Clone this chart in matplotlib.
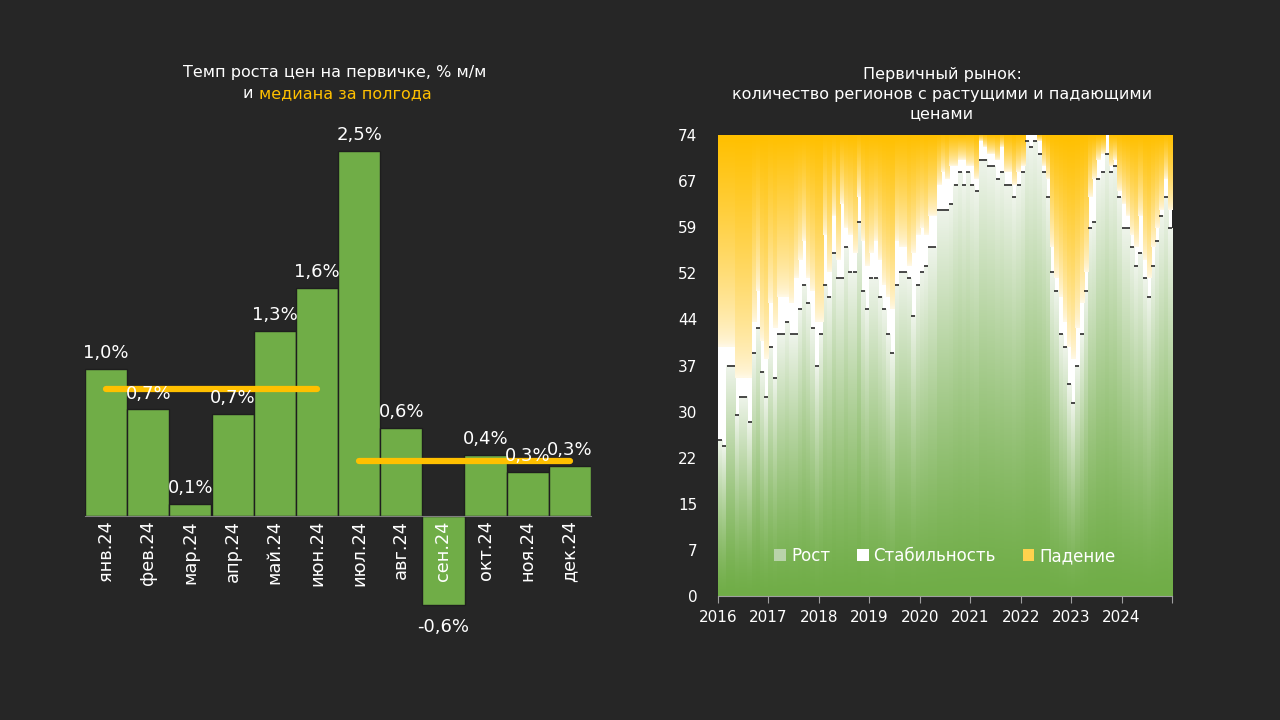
import numpy as np
import matplotlib.pyplot as plt
from matplotlib.patches import Patch

BG = '#262626'
GREEN = '#70AD47'
YELLOW = '#FFC000'

# левый график: темп роста цен на первичке, % м/м
months = ['янв.24', 'фев.24', 'мар.24', 'апр.24', 'май.24', 'июн.24',
          'июл.24', 'авг.24', 'сен.24', 'окт.24', 'ноя.24', 'дек.24']
price_growth = [1.01, 0.73, 0.08, 0.70, 1.27, 1.56,
                2.50, 0.60, -0.61, 0.42, 0.30, 0.34]

# правый график: число регионов (всего 74), помесячно 2016-2024
years = ['2016', '2017', '2018', '2019', '2020', '2021', '2022', '2023', '2024']
rost = [25, 24, 37, 37, 29, 32, 32, 28, 39, 43, 36, 32,
        40, 35, 42, 42, 44, 42, 42, 46, 50, 47, 43, 37,
        42, 50, 48, 55, 51, 51, 56, 52, 52, 60, 49, 46,
        51, 51, 48, 46, 42, 39, 50, 52, 52, 51, 45, 50,
        52, 53, 56, 56, 62, 62, 62, 63, 66, 68, 66, 68,
        66, 65, 70, 70, 69, 69, 67, 68, 66, 66, 64, 66,
        68, 73, 72, 73, 71, 68, 64, 52, 49, 42, 40, 34,
        31, 37, 42, 49, 59, 60, 67, 68, 71, 68, 69, 64,
        59, 59, 56, 53, 55, 51, 48, 53, 57, 61, 64, 59]
stab = [15, 16, 3, 3, 6, 3, 3, 7, 5, 6, 5, 6,
        7, 8, 6, 6, 4, 5, 9, 8, 7, 4, 6, 7,
        2, 8, 4, 6, 3, 12, 3, 6, 3, 4, 8, 7,
        4, 6, 6, 4, 6, 7, 7, 4, 4, 2, 10, 8,
        7, 5, 5, 5, 4, 6, 5, 6, 3, 2, 4, 1,
        3, 2, 3, 2, 2, 2, 3, 4, 2, 2, 2, 2,
        1, 1, 2, 1, 2, 1, 3, 4, 2, 6, 4, 6,
        7, 6, 5, 3, 5, 7, 3, 3, 3, 1, 1, 1,
        4, 2, 2, 3, 6, 3, 3, 3, 2, 1, 3, 3]
pad = [34, 34, 34, 34, 39, 39, 39, 39, 30, 25, 33, 36,
       27, 31, 26, 26, 26, 27, 23, 20, 17, 23, 25, 30,
       30, 16, 22, 13, 20, 11, 15, 16, 19, 10, 17, 21,
       19, 17, 20, 24, 26, 28, 17, 18, 18, 21, 19, 16,
       15, 16, 13, 13, 8, 6, 7, 5, 5, 4, 4, 5,
       5, 7, 1, 2, 3, 3, 4, 2, 6, 6, 8, 6,
       5, 0, 0, 0, 1, 5, 7, 18, 23, 26, 30, 34,
       36, 31, 27, 22, 10, 7, 4, 3, 0, 5, 4, 9,
       11, 13, 16, 18, 13, 20, 23, 18, 15, 12, 7, 12]
total_regions = 74


def to_rgb(hex_color):
    h = hex_color.lstrip('#')
    return np.array([int(h[i:i + 2], 16) / 255 for i in (0, 2, 4)])


def fill_gradient(ax, rect, c_bottom, c_top, power):
    """Заливает прямоугольник бара вертикальным градиентом."""
    h = rect.get_height()
    if h <= 0:
        return
    x0, y0, w = rect.get_x(), rect.get_y(), rect.get_width()
    t = np.linspace(0, 1, 80)[:, None, None]
    img = c_bottom + (c_top - c_bottom) * t ** power
    ax.imshow(img, extent=(x0, x0 + w, y0, y0 + h), origin='lower',
              aspect='auto', interpolation='bilinear', zorder=2)


plt.rcParams['font.family'] = ['DejaVu Sans']
fig = plt.figure(figsize=(12.8, 7.2), dpi=100, facecolor=BG)

# ---------- левый график ----------
ax1 = fig.add_axes([85 / 1280, 100 / 720, 506 / 1280, 490 / 720])
ax1.set_facecolor(BG)
x1 = np.arange(len(months))
ax1.bar(x1, price_growth, width=1.0, color=GREEN, edgecolor='#1e1e1e',
        linewidth=1.0, zorder=1)

med1 = np.median(price_growth[:6])
med2 = np.median(price_growth[6:])
ax1.plot([0, 5], [med1, med1], color=YELLOW, lw=4.5,
         solid_capstyle='round', zorder=3)
ax1.plot([6, 11], [med2, med2], color=YELLOW, lw=4.5,
         solid_capstyle='round', zorder=3)

for i, v in enumerate(price_growth):
    label = f'{v:.1f}%'.replace('.', ',')
    if v >= 0:
        ax1.annotate(label, (i, v), xytext=(0, 5), textcoords='offset points',
                     ha='center', va='bottom', color='white', fontsize=13,
                     zorder=5)
    else:
        ax1.annotate(label, (i, v), xytext=(0, -9), textcoords='offset points',
                     ha='center', va='top', color='white', fontsize=13,
                     zorder=5)

ax1.set_xlim(-0.5, 11.5)
ax1.set_ylim(-0.712, 2.644)
ax1.set_axisbelow(False)
ax1.spines['bottom'].set_position(('data', 0))
ax1.spines['bottom'].set_color('#808080')
for s in ('top', 'right', 'left'):
    ax1.spines[s].set_visible(False)
ax1.set_yticks([])
ax1.set_xticks(x1)
ax1.set_xticklabels(months, rotation=90, color='white', fontsize=12.8)
ax1.tick_params(axis='x', length=0, pad=3)

fig.text(183 / 1280, 1 - 72 / 720, 'Темп роста цен на первичке, % м/м',
         ha='left', va='center', color='white', fontsize=11.5)
fig.text(253 / 1280, 1 - 94 / 720, 'и', ha='right', va='center',
         color='white', fontsize=11.5)
fig.text(259 / 1280, 1 - 94 / 720, 'медиана за полгода', ha='left',
         va='center', color=YELLOW, fontsize=11.5)

# ---------- правый график ----------
ax2 = fig.add_axes([718 / 1280, 124 / 720, 454 / 1280, 461 / 720])
ax2.set_facecolor(BG)
x2 = np.arange(len(rost)) + 0.5
green_bars = ax2.bar(x2, rost, width=1.0, color='#A9CD93', linewidth=0,
                     zorder=1)
stab_bottom = np.array(rost)
ax2.bar(x2, stab, width=1.0, bottom=stab_bottom, color='white',
        linewidth=0, zorder=1)
pad_bottom = np.array(rost) + np.array(stab)
yellow_bars = ax2.bar(x2, pad, width=1.0, bottom=pad_bottom, color='#FFE08A',
                      linewidth=0, zorder=1)

g_bottom, g_top = to_rgb(GREEN), to_rgb('#EEF4EA')
y_bottom, y_top = to_rgb('#FFF8E4'), to_rgb(YELLOW)
for rect in green_bars:
    fill_gradient(ax2, rect, g_bottom, g_top, 1.3)
for rect in yellow_bars:
    fill_gradient(ax2, rect, y_bottom, y_top, 0.7)

ax2.plot(x2, rost, linestyle='none', marker='_', markersize=3.1,
         markeredgewidth=1.1, color='#1a1a1a', zorder=4)

ax2.set_xlim(0, len(rost))
ax2.set_ylim(0, total_regions)
yt = np.linspace(0, total_regions, 11)
ax2.set_yticks(yt)
ax2.set_yticklabels([f'{v:.0f}' for v in yt], color='white', fontsize=11)
ax2.tick_params(axis='y', length=0, pad=15)
ax2.set_xticks(np.arange(0, len(rost) + 1, 12))
ax2.set_xticklabels(years + [''], color='white', fontsize=11)
ax2.tick_params(axis='x', length=5, color='#a0a0a0', pad=5)
ax2.spines['bottom'].set_color('#a0a0a0')
for s in ('top', 'right', 'left'):
    ax2.spines[s].set_visible(False)

handles = [Patch(facecolor='#B9D3AA', label='Рост'),
           Patch(facecolor='white', label='Стабильность'),
           Patch(facecolor='#FFD24D', label='Падение')]
leg = ax2.legend(handles=handles, loc='lower center', ncol=3,
                 bbox_to_anchor=(0.5, 0.035), frameon=False,
                 labelcolor='white', fontsize=12, handlelength=0.7,
                 handleheight=0.7, handletextpad=0.3, columnspacing=1.6)
leg.set_zorder(6)

fig.text(942 / 1280, 1 - 94 / 720,
         'Первичный рынок:\nколичество регионов с растущими и падающими\nценами',
         ha='center', va='center', color='white', fontsize=11.5,
         linespacing=1.35)

fig.savefig('out.png', dpi=100, facecolor=BG)
